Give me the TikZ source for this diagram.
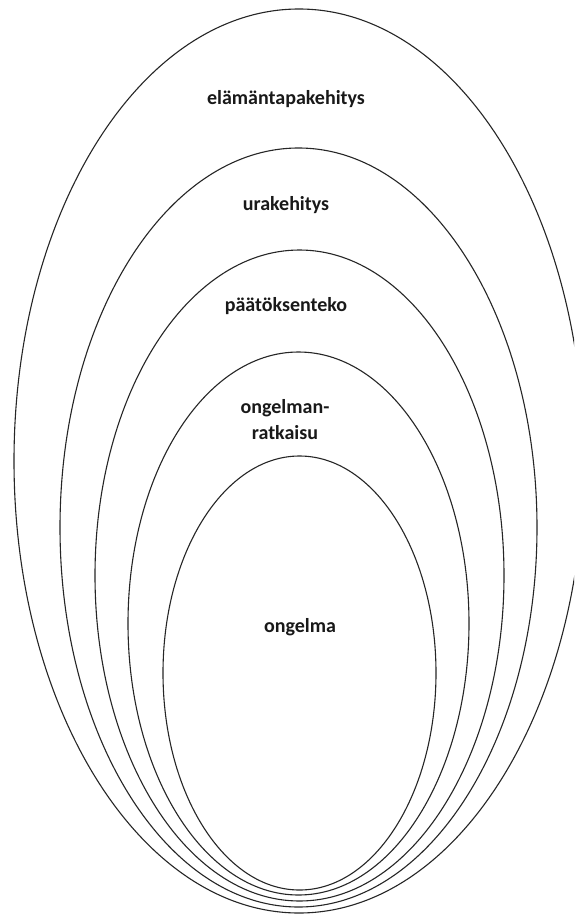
\documentclass[tikz,border=0pt]{standalone}
\usepackage{fontspec}
\setmainfont{Carlito}
\begin{document}
\begin{tikzpicture}[x=1pt,y=-1pt,
  ring/.style={draw=black!85,line width=1.1pt},
  lab/.style={font=\fontsize{20}{22}\selectfont\bfseries,text=black!90,align=center,inner sep=0pt}]
\useasboundingbox (0,0) rectangle (574,916);
\clip (0,0) rectangle (574,916);
\fill[white] (0,0) rectangle (574,916);
\draw[ring] (299,461) ellipse [x radius=285pt, y radius=452pt];
\draw[ring] (298.5,527.5) ellipse [x radius=238.5pt, y radius=379.5pt];
\draw[ring] (299.5,575.5) ellipse [x radius=204.5pt, y radius=325.5pt];
\draw[ring] (298.5,623.5) ellipse [x radius=170.5pt, y radius=271.5pt];
\draw[ring] (299.5,673) ellipse [x radius=136.5pt, y radius=217pt];
\node[lab] (t1) at (286,99) {elämäntapakehitys};
\node[lab] (t2) at (286,205) {urakehitys};
\node[lab] (t3) at (286,306) {päätöksenteko};
\node[lab] (t4) at (285,420) {ongelman-\\[4pt]ratkaisu};
\node[lab] (t5) at (300,627) {ongelma};
\end{tikzpicture}
\end{document}
